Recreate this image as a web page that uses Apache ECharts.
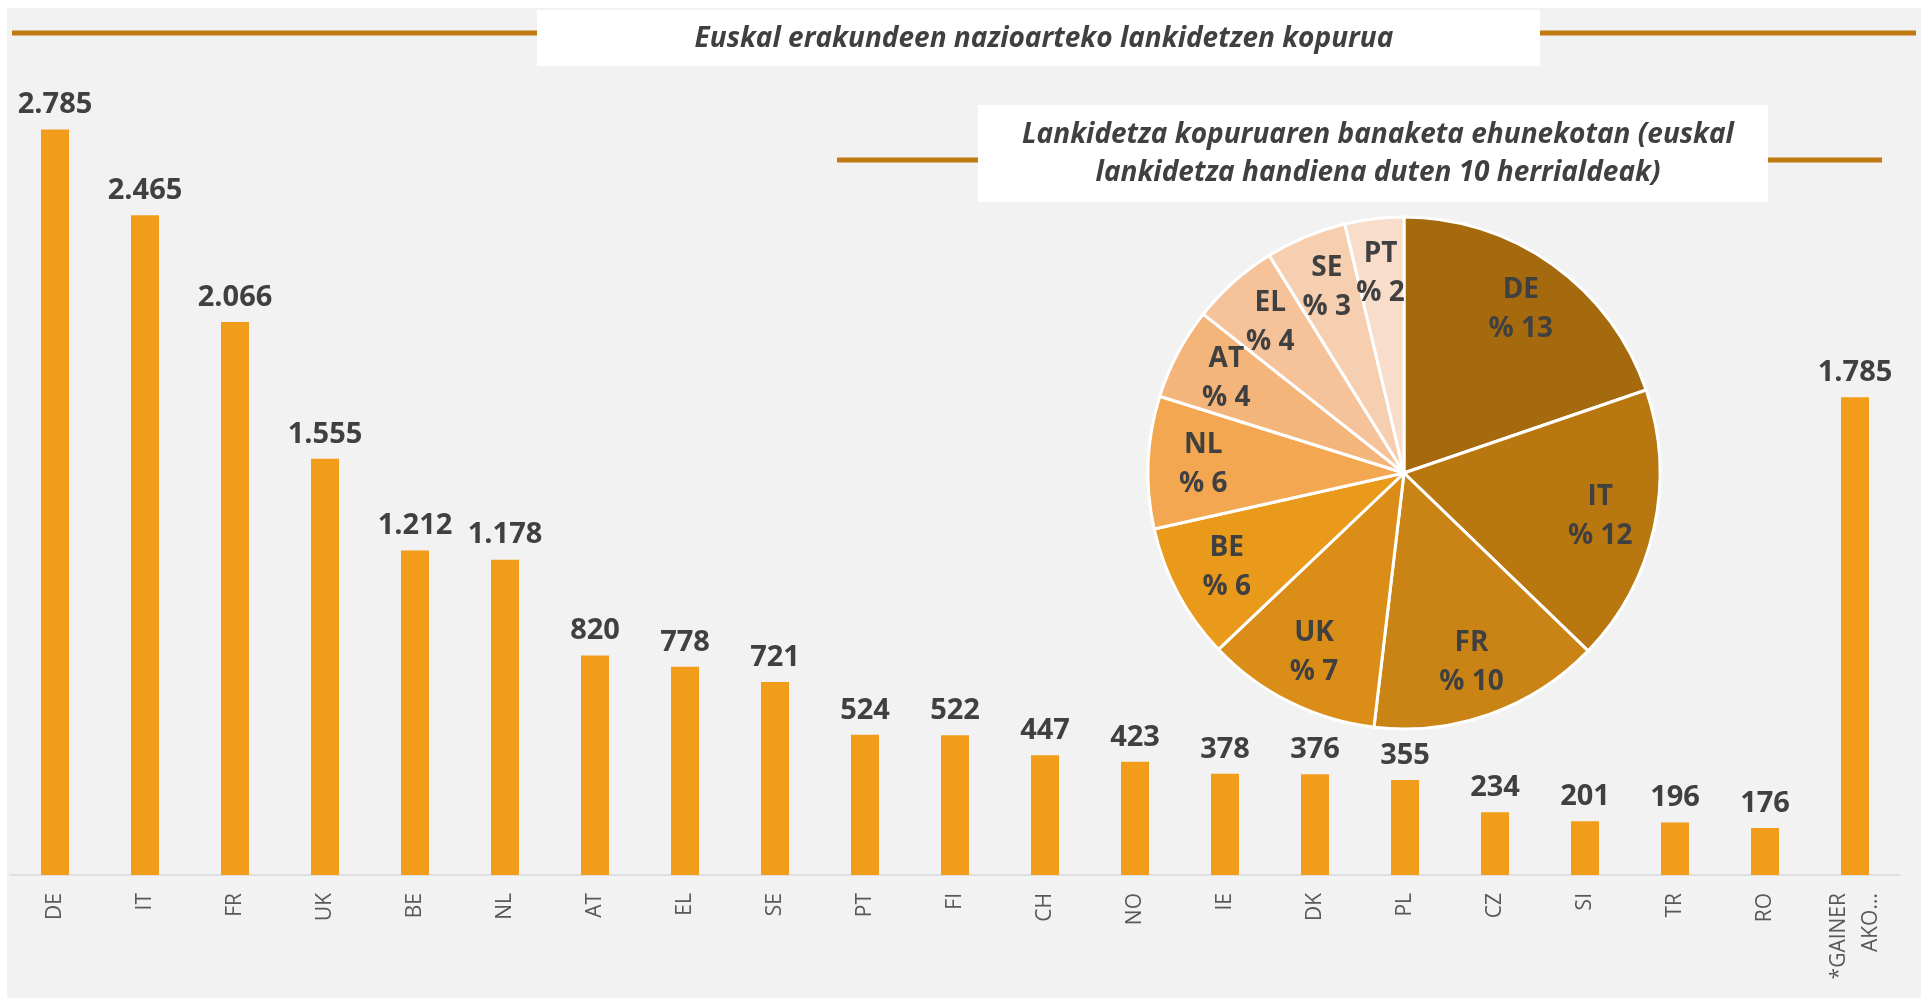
<!DOCTYPE html>
<html>
<head>
<meta charset="utf-8">
<script src="https://cdn.jsdelivr.net/npm/echarts@6/dist/echarts.min.js"></script>
<style>
html, body { margin: 0; padding: 0; background: #ffffff; }
#main { width: 1921px; height: 998px; }
</style>
</head>
<body>
<div id="main"></div>
<script>
// datuak
var countries = ['DE', 'IT', 'FR', 'UK', 'BE', 'NL', 'AT', 'EL', 'SE', 'PT', 'FI', 'CH', 'NO', 'IE', 'DK', 'PL', 'CZ', 'SI', 'TR', 'RO', '*GAINER\nAKO...'];
var counts = [2785, 2465, 2066, 1555, 1212, 1178, 820, 778, 721, 524, 522, 447, 423, 378, 376, 355, 234, 201, 196, 176, 1785];

var pieCountries = ['DE', 'IT', 'FR', 'UK', 'BE', 'NL', 'AT', 'EL', 'SE', 'PT'];
var pieValues = [2785, 2465, 2066, 1555, 1212, 1178, 820, 778, 721, 524];
var piePercent = [13, 12, 10, 7, 6, 6, 4, 4, 3, 2];
var pieColors = ['#A66A0E', '#B8770F', '#CA8416', '#DA8E18', '#EA9A1A', '#F2A750', '#F3B57A', '#F5C29A', '#F6CFB0', '#F8DDCB'];

var mainTitle = 'Euskal erakundeen nazioarteko lankidetzen kopurua';
var pieTitle = 'Lankidetza kopuruaren banaketa ehunekotan (euskal\nlankidetza handiena duten 10 herrialdeak)';

var FONT = '"Open Sans", "Noto Sans", sans-serif';

// millakoak puntuarekin
function fmt(v) {
    return String(v).replace(/\B(?=(\d{3})+(?!\d))/g, '.');
}

var pieData = pieCountries.map(function (c, i) {
    return { name: c, value: pieValues[i], itemStyle: { color: pieColors[i] } };
});
// etiketentzako kopia, kolorerik gabe
var pieLabelData = pieCountries.map(function (c, i) {
    return { name: c, value: pieValues[i] };
});

var chart = echarts.init(document.getElementById('main'));
var option = {
    backgroundColor: '#ffffff',
    animation: false,
    title: [{
        text: mainTitle,
        left: 1039,
        top: 20,
        textAlign: 'center',
        textStyle: { fontFamily: FONT, fontSize: 28, fontWeight: 'bold', fontStyle: 'italic', color: '#404040' }
    }, {
        text: pieTitle,
        left: 1373,
        top: 111,
        textAlign: 'center',
        textStyle: { fontFamily: FONT, fontSize: 28, fontWeight: 'bold', fontStyle: 'italic', color: '#404040', lineHeight: 38 }
    }],
    graphic: [
        { type: 'rect', z: -10, silent: true, shape: { x: 7, y: 8, width: 1914, height: 990 }, style: { fill: '#F2F2F2' } },
        { type: 'line', z: -5, silent: true, shape: { x1: 12, y1: 33, x2: 1916, y2: 33 }, style: { stroke: '#C07A10', lineWidth: 5 } },
        { type: 'rect', z: -4, silent: true, shape: { x: 537, y: 10, width: 1003, height: 56 }, style: { fill: '#ffffff' } },
        { type: 'line', z: -5, silent: true, shape: { x1: 837, y1: 160, x2: 1882, y2: 160 }, style: { stroke: '#C07A10', lineWidth: 5 } },
        { type: 'rect', z: -4, silent: true, shape: { x: 978, y: 105, width: 790, height: 97 }, style: { fill: '#ffffff' } }
    ],
    grid: { left: 10, right: 21, top: 72, bottom: 123 },
    xAxis: {
        type: 'category',
        data: countries,
        axisLine: { lineStyle: { color: '#D9D9D9', width: 1.5 } },
        axisTick: { show: false },
        axisLabel: {
            rotate: 90,
            interval: 0,
            margin: 18,
            fontFamily: FONT,
            fontSize: 21,
            color: '#595959',
            lineHeight: 32
        }
    },
    yAxis: {
        type: 'value',
        min: 0,
        max: 3000,
        show: false,
        splitLine: { show: false }
    },
    series: [{
        type: 'bar',
        data: counts,
        barWidth: 28,
        itemStyle: { color: '#F29C1B' },
        label: {
            show: true,
            position: 'top',
            distance: 10,
            fontFamily: FONT,
            fontSize: 29,
            fontWeight: 'bold',
            color: '#404040',
            formatter: function (p) { return fmt(p.value); }
        },
        silent: true
    }, {
        type: 'pie',
        center: [1404, 473],
        radius: [0, 256],
        startAngle: 90,
        clockwise: true,
        data: pieData,
        itemStyle: { borderColor: '#ffffff', borderWidth: 3 },
        label: { show: false },
        labelLine: { show: false },
        silent: true,
        z: 5
    }, {
        // etiketak bakarrik, zatiaren erdian baino kanpoago
        type: 'pie',
        center: [1404, 473],
        radius: [140, 256],
        startAngle: 90,
        clockwise: true,
        avoidLabelOverlap: false,
        data: pieLabelData,
        itemStyle: { color: 'rgba(0,0,0,0)', borderWidth: 0 },
        label: {
            show: true,
            position: 'inside',
            fontFamily: FONT,
            fontSize: 28,
            fontWeight: 'bold',
            color: '#404040',
            lineHeight: 39,
            formatter: function (p) { return p.name + '\n% ' + piePercent[p.dataIndex]; }
        },
        labelLayout: { hideOverlap: false },
        labelLine: { show: false },
        silent: true,
        z: 6
    }]
};
chart.setOption(option);
</script>
</body>
</html>
